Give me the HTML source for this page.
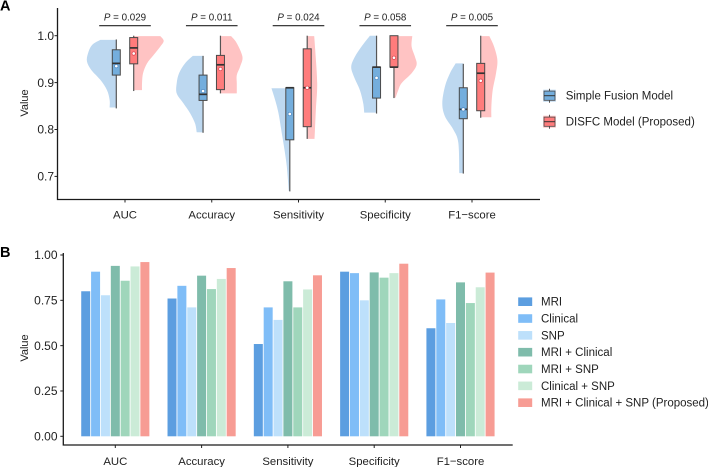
<!DOCTYPE html>
<html>
<head>
<meta charset="utf-8">
<style>
html,body{margin:0;padding:0;background:#fff;}
svg{display:block;font-family:"Liberation Sans",sans-serif;filter:blur(0.3px);}
</style>
</head>
<body>
<svg id="chart" xmlns="http://www.w3.org/2000/svg" width="708" height="467" viewBox="0 0 708 467">
<rect width="708" height="467" fill="#fff"></rect>
</svg>
<script>
const metrics = ["AUC","Accuracy","Sensitivity","Specificity","F1\u2212score"];
const pLabels = ["0.029","0.011","0.024","0.058","0.005"];
const ticksA = [1.0,0.9,0.8,0.7];
const ticksB = [1.00,0.75,0.50,0.25,0.00];

// box stats per metric: min, q1, median, q3, max, mean
const boxSimple = [
  [0.845,0.916,0.941,0.970,0.992,0.935],
  [0.793,0.862,0.875,0.916,0.957,0.882],
  [0.668,0.778,0.889,0.889,0.889,0.833],
  [0.834,0.867,0.933,0.933,1.000,0.910],
  [0.706,0.823,0.843,0.889,0.940,0.843]
];
const boxProposed = [
  [0.882,0.940,0.974,0.996,1.000,0.962],
  [0.877,0.885,0.938,0.958,1.000,0.929],
  [0.780,0.806,0.889,0.972,1.000,0.889],
  [0.867,0.933,0.933,1.000,1.000,0.953],
  [0.825,0.840,0.920,0.941,1.000,0.904]
];

// half-violin profiles: value grid and density
const violinSimpleValues = [
  [0.991,0.980,0.962,0.945,0.927,0.906,0.884,0.863,0.847],
  [0.957,0.941,0.920,0.899,0.877,0.856,0.835,0.813,0.794],
  [0.888,0.863,0.835,0.792,0.757,0.721,0.669],
  [1.000,0.977,0.955,0.934,0.913,0.884,0.856,0.836],
  [0.941,0.920,0.892,0.856,0.828,0.800,0.772,0.707]
];
const violinSimpleDensity = [
  [0.48,0.73,0.85,0.88,0.75,0.48,0.28,0.20,0.20],
  [0.31,0.54,0.72,0.79,0.79,0.59,0.39,0.24,0.19],
  [0.55,0.44,0.34,0.24,0.16,0.09,0.03],
  [0.20,0.45,0.65,0.76,0.68,0.50,0.40,0.37],
  [0.23,0.40,0.55,0.63,0.55,0.30,0.15,0.12]
];
const violinProposedValues = [
  [0.999,0.989,0.977,0.959,0.941,0.920,0.899,0.884],
  [0.999,0.984,0.955,0.934,0.916,0.899,0.877],
  [0.999,0.970,0.899,0.842,0.780],
  [0.999,0.977,0.955,0.938,0.920,0.899,0.884,0.868],
  [0.999,0.977,0.948,0.920,0.884,0.849,0.826]
];
const violinProposedDensity = [
  [0.80,0.90,0.80,0.60,0.40,0.28,0.25,0.25],
  [0.32,0.49,0.66,0.59,0.49,0.49,0.49],
  [0.21,0.24,0.30,0.26,0.22],
  [0.55,0.53,0.63,0.68,0.53,0.23,0.13,0.05],
  [0.26,0.40,0.50,0.46,0.36,0.32,0.32]
];

// panel B bars, one array per model
const barModels = ["MRI","Clinical","SNP","MRI + Clinical","MRI + SNP","Clinical + SNP","MRI + Clinical + SNP (Proposed)"];
const barColors = ["#5c9ee0","#7fbdf7","#bde0fb","#7fbcab","#9fd6bb","#cbebd7","#f79c94"];
const valuesMRI = [0.800,0.760,0.509,0.908,0.596];
const valuesClinical = [0.908,0.830,0.711,0.900,0.755];
const valuesSNP = [0.778,0.711,0.642,0.750,0.625];
const valuesMRIClinical = [0.940,0.886,0.855,0.904,0.849];
const valuesMRISNP = [0.858,0.812,0.711,0.875,0.735];
const valuesClinicalSNP = [0.937,0.868,0.810,0.900,0.822];
const valuesAll = [0.961,0.928,0.888,0.952,0.903];
const barSeries = [valuesMRI,valuesClinical,valuesSNP,valuesMRIClinical,valuesMRISNP,valuesClinicalSNP,valuesAll];

const svg = document.getElementById('chart');
const NS = 'http://www.w3.org/2000/svg';
function mk(tag, attrs, text){
  const e = document.createElementNS(NS, tag);
  for (const k in attrs) e.setAttribute(k, attrs[k]);
  if (text !== undefined) e.textContent = text;
  svg.appendChild(e);
  return e;
}
function slug(s){ return s.toLowerCase().replace(/[^a-z0-9]+/g,'-').replace(/^-|-$/g,''); }

// axis functions
const yA = v => 35.7 + (1 - v) * 469;
const xA = i => 125 + i * 86.75;
const dW = d => d * 33.33;
const yB = v => 436.3 - v * 181.3;
const xB = i => 115.3 + i * 86.3;

function smoothPath(pts){
  let d = '';
  for (let i = 0; i < pts.length - 1; i++){
    const p0 = pts[Math.max(i-1,0)], p1 = pts[i], p2 = pts[i+1], p3 = pts[Math.min(i+2,pts.length-1)];
    d += ' C' + (p1[0]+(p2[0]-p0[0])/6).toFixed(2) + ' ' + (p1[1]+(p2[1]-p0[1])/6).toFixed(2) + ' ' +
         (p2[0]-(p3[0]-p1[0])/6).toFixed(2) + ' ' + (p2[1]-(p3[1]-p1[1])/6).toFixed(2) + ' ' +
         p2[0].toFixed(2) + ' ' + p2[1].toFixed(2);
  }
  return d;
}
function drawViolin(cx, dir, values, dens, color, name){
  const pts = values.map((v,i) => [cx + dir * dW(dens[i]), yA(v)]);
  const d = 'M' + cx + ' ' + yA(values[0]) + ' L' + pts[0][0].toFixed(2) + ' ' + pts[0][1].toFixed(2) +
    smoothPath(pts) + ' L' + cx + ' ' + yA(values[values.length-1]) + ' Z';
  const e = mk('path', {d:d, fill:color});
  
  
}
function drawBox(cx, s, fill, ring, name){
  const w = 8;
  const wh = mk('line', {x1:cx,x2:cx,y1:yA(s[0]),y2:yA(s[4]),stroke:'#555',"stroke-width":1.2});
  
  
  const r = mk('rect', {x:cx-w/2,y:yA(s[3]),width:w,height:yA(s[1])-yA(s[3]),fill:fill,stroke:'#4a4a4a',"stroke-width":1});
  
  
  const m = mk('line', {x1:cx-w/2,x2:cx+w/2,y1:yA(s[2]),y2:yA(s[2]),stroke:'#333',"stroke-width":1.7});
  
  
  const c = mk('circle', {cx:cx,cy:yA(s[5]),r:1.7,fill:'#fff',stroke:ring,"stroke-width":0.7});
  
  
}
function label(x, y, str, size, anchor, name, extra){
  const t = mk('text', Object.assign({x:x,y:y,"font-size":size,"text-anchor":anchor,fill:'#222'}, extra||{}), str);
  
  
  return t;
}

// Panel A
metrics.forEach((m,i) => {
  const key = slug(m);
  drawViolin(xA(i)-8.7, -1, violinSimpleValues[i], violinSimpleDensity[i], '#bdd8f0', 'violin-simple-' + key);
  drawViolin(xA(i)+8.7, 1, violinProposedValues[i], violinProposedDensity[i], '#ffc3c3', 'violin-proposed-' + key);
  drawBox(xA(i)-8.7, boxSimple[i], '#74aedd', '#4f8ac4', 'simple-' + key);
  drawBox(xA(i)+8.7, boxProposed[i], '#ff7c7c', '#d8404c', 'proposed-' + key);

  const br = mk('line', {x1:xA(i)-25.8,x2:xA(i)+25.8,y1:25.7,y2:25.7,stroke:'#222',"stroke-width":1.2});
  
  
  const pt = label(xA(i), 20.5, '', 9.8, 'middle', 'p-value-' + key);
  const it = document.createElementNS(NS, 'tspan');
  it.setAttribute('font-style', 'italic');
  it.textContent = 'P';
  pt.appendChild(it);
  pt.appendChild(document.createTextNode(' = ' + pLabels[i]));

  const tk = mk('line', {x1:xA(i),x2:xA(i),y1:199.5,y2:202.5,stroke:'#222',"stroke-width":1});
  
  
  label(xA(i), 218.5, m, 11.35, 'middle', 'x-label-a-' + key);
});
ticksA.forEach(v => {
  const tk = mk('line', {x1:54.5,x2:57.5,y1:yA(v),y2:yA(v),stroke:'#222',"stroke-width":1});
  
  
  label(54, yA(v)+4.2, v.toFixed(1), 12, 'end', 'y-label-a');
});
const axA = mk('path', {d:'M57.5 8 V199.5 H540',fill:'none',stroke:'#1a1a1a',"stroke-width":1.3});


label(0, 0, 'Value', 11, 'middle', 'y-axis-title-a', {transform:'translate(28,103) rotate(-90)'});
label(0, 10.5, 'A', 14.5, 'start', 'panel-label-a', {"font-weight":'bold',fill:'#000'});

// Panel A legend
const legA = [["Simple Fusion Model","#74aedd","#bdd8f0",95.7],["DISFC Model (Proposed)","#ff7c7c","#ffc3c3",121.7]];
legA.forEach(l => {
  const key = slug(l[0]);
  const bg = mk('rect', {x:543.2,y:l[3]-6,width:12.6,height:12,fill:l[2]});
  
  
  const wh = mk('line', {x1:549.5,x2:549.5,y1:l[3]-7,y2:l[3]+7,stroke:'#555',"stroke-width":1});
  
  
  const bx = mk('rect', {x:544,y:l[3]-4.6,width:11,height:9.2,fill:l[1],stroke:'#4a4a4a',"stroke-width":0.8});
  
  
  const md = mk('line', {x1:544,x2:555,y1:l[3],y2:l[3],stroke:'#333',"stroke-width":1});
  
  
  label(565.7, l[3]+4, l[0], 11.5, 'start', 'legend-label-' + key);
});

// Panel B
const barStep = 9.86, barW = 9;
metrics.forEach((m,i) => {
  const key = slug(m);
  barSeries.forEach((vals,j) => {
    const x = xB(i) + (j - 3) * barStep - barW/2;
    const b = mk('rect', {x:x,y:yB(vals[i]),width:barW,height:yB(0)-yB(vals[i]),fill:barColors[j]});
    
    
  });
  const tk = mk('line', {x1:xB(i),x2:xB(i),y1:445,y2:448,stroke:'#222',"stroke-width":1});
  
  
  label(xB(i), 465, m, 11.35, 'middle', 'x-label-b-' + key);
});
ticksB.forEach(v => {
  const tk = mk('line', {x1:60.3,x2:63.3,y1:yB(v),y2:yB(v),stroke:'#222',"stroke-width":1});
  
  
  label(57.5, yB(v)+4.2, v.toFixed(2), 12, 'end', 'y-label-b');
});
const axB = mk('path', {d:'M63.3 253 V445 H512.7',fill:'none',stroke:'#1a1a1a',"stroke-width":1.3});


label(0, 0, 'Value', 11, 'middle', 'y-axis-title-b', {transform:'translate(28,348) rotate(-90)'});
label(0, 257, 'B', 14.5, 'start', 'panel-label-b', {"font-weight":'bold',fill:'#000'});

// Panel B legend
barModels.forEach((m,j) => {
  const cy = 301.7 + j * 16.83;
  const k = mk('rect', {x:518.2,y:cy-4.3,width:14,height:8.6,fill:barColors[j]});
  
  
  label(541, cy+4, m, 11.5, 'start', 'legend-label-' + slug(m));
});
</script>
</body>
</html>
